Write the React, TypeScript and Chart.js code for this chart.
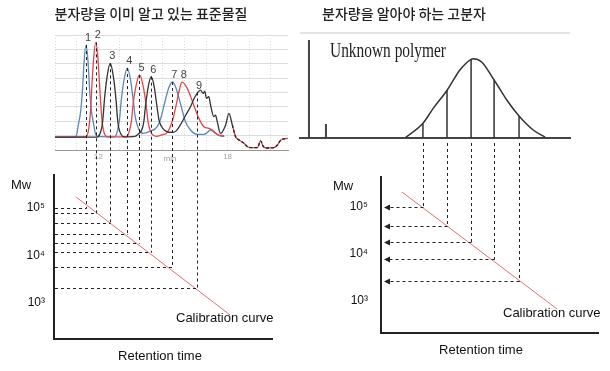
import React, { useEffect, useRef } from "react";
import { Chart, registerables } from "chart.js";
Chart.register(...registerables);

// ---------------- DATA ----------------
// Left: chromatogram of standards (retention time, min / detector response)
const blueTime = [10.0, 10.9, 11.0, 11.08, 11.19, 11.27, 11.355, 11.44, 11.525, 11.61, 11.69, 11.8, 11.88, 12.0, 12.75, 12.85, 12.92, 13.0, 13.06, 13.205, 13.35, 13.495, 13.64, 13.7, 13.78, 13.9, 14.1, 14.4, 14.74, 14.92, 15.09, 15.27, 15.44, 15.6, 15.81, 16.05, 16.28, 16.59, 16.9, 17.05, 17.21, 17.44, 17.67, 17.85];
const blueSignal = [0.9, 0.9, 1.05, 1.73, 2.7, 4.1, 6.28, 7.3, 6.28, 4.1, 2.7, 1.73, 1.1, 0.95, 0.92, 1.1, 1.52, 2.24, 3.3, 4.93, 5.7, 4.93, 3.3, 2.5, 1.9, 1.4, 1.15, 1.3, 1.63, 2.3, 3.32, 4.31, 4.73, 4.35, 3.25, 1.97, 1.39, 1.09, 1.09, 1.2, 1.39, 1.16, 0.97, 0.95];

const redTime = [10.0, 11.4, 11.5, 11.59, 11.66, 11.7, 11.795, 11.89, 11.985, 12.08, 12.13, 12.2, 12.3, 12.45, 13.3, 13.4, 13.47, 13.55, 13.61, 13.765, 13.92, 14.075, 14.23, 14.3, 14.39, 14.5, 14.7, 14.98, 15.15, 15.31, 15.475, 15.64, 15.8, 15.88, 16.13, 16.43, 16.67, 16.9, 17.13, 17.29, 17.52, 17.83];
const redSignal = [0.9, 0.92, 1.05, 1.76, 3.0, 4.2, 6.44, 7.49, 6.44, 4.2, 3.0, 1.76, 1.1, 0.92, 0.92, 1.1, 1.46, 2.1, 3.06, 4.53, 5.22, 4.53, 3.06, 2.1, 1.46, 1.1, 0.95, 1.07, 1.15, 1.5, 2.2, 3.3, 4.4, 4.72, 4.29, 3.13, 2.2, 1.62, 1.51, 1.39, 1.09, 0.99];

const blackTime = [10.0, 11.95, 12.06, 12.17, 12.23, 12.29, 12.425, 12.56, 12.695, 12.83, 12.89, 12.95, 13.06, 13.2, 13.7, 13.85, 14.04, 14.12, 14.19, 14.325, 14.46, 14.595, 14.73, 14.82, 14.95, 15.15, 15.45, 15.63, 15.81, 16.05, 16.28, 16.45, 16.59, 16.74, 16.87, 16.94, 17.02, 17.13, 17.21, 17.36, 17.44, 17.52, 17.67, 17.91, 18.06, 18.22];
const blackSignal = [0.9, 0.9, 1.05, 1.57, 2.3, 3.47, 5.21, 6.03, 5.21, 3.47, 2.3, 1.57, 1.1, 0.92, 0.95, 1.1, 1.46, 2.0, 3.0, 4.43, 5.1, 4.43, 3.0, 2.1, 1.6, 1.3, 1.22, 1.35, 1.74, 2.4, 3.01, 3.6, 3.94, 4.17, 3.94, 4.1, 3.6, 3.71, 3.13, 2.32, 2.43, 1.97, 1.16, 1.74, 2.55, 1.74];

const tailTime = [18.22, 18.37, 18.53, 18.76, 18.92, 19.15, 19.38, 19.53, 19.66, 19.81, 20.15, 20.31, 20.47, 20.78];
const tailSignal = [1.74, 0.93, 0.7, 0.47, 0.23, 0.16, 0.16, 0.63, 0.23, 0.14, 0.16, 0.35, 0.7, 0.81];

const peakNumbers = ["1", "2", "3", "4", "5", "6", "7", "8", "9"];
const peakTimes = [11.44, 11.89, 12.56, 13.35, 13.92, 14.46, 15.44, 15.88, 16.59];
const peakHeights = [7.3, 7.49, 6.03, 5.7, 5.22, 5.1, 4.73, 4.72, 4.0];

// standards used for calibration (peak index) and their molecular weights
const standardPeaks = [0, 1, 2, 3, 4, 5, 6, 8];
const standardMw = [101000, 79000, 47600, 28400, 18100, 12000, 5650, 2040];

const calLeftTime = [10.98, 18.14];
const calLeftMw = [170000, 560];

const chromTicks = [12, 18];
const mwTicks = [1000, 10000, 100000];

// Right: unknown polymer
const polymerTime = [1.116, 1.94, 2.43, 3.08, 3.67, 4.17, 4.29, 4.68, 5.26, 5.85, 6.42, 7.08, 7.63];
const polymerSignal = [0, 0.18, 0.37, 0.6, 0.85, 0.98, 0.99, 0.95, 0.725, 0.475, 0.275, 0.1, 0.01];
const markerTime = [-3.35, -2.56];
const markerHeight = [1.225, 0.175];
const sliceTime = [1.95, 3.07, 4.19, 5.26, 6.42];
const sliceHeight = [0.18, 0.6, 0.98, 0.725, 0.275];
const sliceMw = [98500, 40000, 17700, 7830, 2700];

const calRightTime = [0.977, 8.186];
const calRightMw = [208000, 676];

// ---------------- HELPERS ----------------
const zip = (xs: number[], ys: number[]) => xs.map((x, i) => ({ x, y: ys[i] }));
const sticks = (xs: number[], hs: number[]) => {
  const out: { x: number; y: number | null }[] = [];
  xs.forEach((x, i) => {
    out.push({ x, y: 0 }, { x, y: hs[i] }, { x, y: null });
  });
  return out;
};
const SUP: Record<number, string> = { 3: "\u00B3", 4: "\u2074", 5: "\u2075" };
const SANS = '"Liberation Sans", Arial, sans-serif';
const KR = '"Noto Sans CJK KR", sans-serif';

type TextItem = { text: string; x: number; y: number; font: string; color?: string; align?: CanvasTextAlign; maxWidth?: number; baseline?: CanvasTextBaseline };
const drawTexts = (ctx: CanvasRenderingContext2D, items: TextItem[]) => {
  ctx.save();
  items.forEach((t) => {
    ctx.font = t.font;
    ctx.fillStyle = t.color || "#111";
    ctx.textAlign = t.align || "left";
    ctx.textBaseline = t.baseline || "middle";
    if (t.maxWidth) ctx.fillText(t.text, t.x, t.y, t.maxWidth);
    else ctx.fillText(t.text, t.x, t.y);
  });
  ctx.restore();
};

const baseOptions = {
  responsive: false,
  animation: false as const,
  devicePixelRatio: 1,
  events: [] as any[],
  plugins: { legend: { display: false }, tooltip: { enabled: false }, title: { display: false } },
  elements: { point: { radius: 0 } },
};

export default function App() {
  const c1 = useRef<HTMLCanvasElement>(null);
  const c2 = useRef<HTMLCanvasElement>(null);
  const c3 = useRef<HTMLCanvasElement>(null);
  const c4 = useRef<HTMLCanvasElement>(null);

  useEffect(() => {
    const charts: Chart[] = [];
    const line = (data: any[], color: string, width: number, extra: any = {}) => ({
      data,
      borderColor: color,
      borderWidth: width,
      pointRadius: 0,
      fill: false,
      cubicInterpolationMode: "monotone",
      ...extra,
    });

    // ---- Left chromatogram ----
    const chromL = new Chart(c1.current!, {
      type: "line",
      data: {
        datasets: [
          line(zip(tailTime, tailSignal), "#222", 1.3, { order: 0, borderDash: [3, 2] }),
          line(zip(tailTime, tailSignal), "#e0474c", 1.3, { order: 1 }),
          line(zip(blackTime, blackSignal), "#333", 1.3, { order: 2 }),
          line(zip(redTime, redSignal), "#e0474c", 1.3, { order: 3 }),
          line(zip(blueTime, blueSignal), "#5b87b8", 1.3, { order: 4 }),
        ],
      },
      options: {
        ...baseOptions,
        layout: { padding: { left: 55, right: 322, top: 35, bottom: 209 } },
        scales: {
          x: {
            type: "linear",
            min: 10,
            max: 20.8,
            afterBuildTicks: (s: any) => {
              const t = [];
              for (let v = 10; v <= 20; v++) t.push({ value: v });
              s.ticks = t;
            },
            afterFit: (s: any) => { s.height = 12; },
            grid: { color: "#dcdcdc", drawTicks: false, lineWidth: 1 },
            border: { display: true, color: "#9a9a9a", width: 1, dash: [1, 2] },
            ticks: {
              padding: 2,
              color: "#a0a0a0",
              font: { size: 8, family: SANS },
              maxRotation: 0,
              autoSkip: false,
              callback: (v: any) => (chromTicks.includes(Number(v)) ? String(v) : ""),
            },
          },
          y: {
            type: "linear",
            min: 0,
            max: 8,
            afterBuildTicks: (s: any) => {
              const t = [];
              for (let v = 0; v <= 8; v++) t.push({ value: v });
              s.ticks = t;
            },
            afterFit: (s: any) => { s.width = 0; },
            grid: {
              drawTicks: false,
              color: (c: any) => (c.tick && c.tick.value === 0 ? "rgba(0,0,0,0)" : "#dcdcdc"),
            },
            border: { display: false },
            ticks: { display: false },
          },
        },
      } as any,
      plugins: [
        {
          id: "leftChromText",
          afterDatasetsDraw(chart: any) {
            const { ctx, scales } = chart;
            const items: TextItem[] = [
              { text: "분자량을 이미 알고 있는 표준물질", x: 151, y: 14, font: `500 14px ${KR}`, color: "#222", align: "center" },
              { text: "min", x: 170, y: 159, font: `8px ${SANS}`, color: "#a0a0a0", align: "center" },
            ];
            peakNumbers.forEach((n, i) => {
              items.push({
                text: n,
                x: scales.x.getPixelForValue(peakTimes[i]) + 2,
                y: scales.y.getPixelForValue(peakHeights[i]) - 7,
                font: `11px ${SANS}`,
                color: "#444",
                align: "center",
              });
            });
            drawTexts(ctx, items);
          },
        },
      ],
    });
    charts.push(chromL);

    // ---- Right chromatogram ----
    const chromR = new Chart(c2.current!, {
      type: "line",
      data: {
        datasets: [
          line(zip(polymerTime, polymerSignal), "#333", 1.5),
          line(sticks(sliceTime, sliceHeight), "#333", 1.5, { cubicInterpolationMode: "default", tension: 0 }),
          line(sticks(markerTime, markerHeight), "#444", 2, { cubicInterpolationMode: "default", tension: 0 }),
        ],
      },
      options: {
        ...baseOptions,
        layout: { padding: { left: 300, right: 40, top: 33, bottom: 233 } },
        scales: {
          x: {
            type: "linear",
            min: -3.767,
            max: 8.79,
            afterFit: (s: any) => { s.height = 0; },
            grid: { display: false },
            border: { display: true, color: "#444", width: 2 },
            ticks: { display: false },
          },
          y: {
            type: "linear",
            min: 0,
            max: 1.3125,
            afterBuildTicks: (s: any) => { s.ticks = [{ value: s.max }]; },
            afterFit: (s: any) => { s.width = 0; },
            grid: { drawTicks: false, color: "#e4e4e4", lineWidth: 2 },
            border: { display: false },
            ticks: { display: false },
          },
        },
      } as any,
      plugins: [
        {
          id: "rightChromText",
          afterDatasetsDraw(chart: any) {
            drawTexts(chart.ctx, [
              { text: "분자량을 알아야 하는 고분자", x: 404, y: 14, font: `500 14px ${KR}`, color: "#222", align: "center" },
              { text: "Unknown polymer", x: 330, y: 57, font: `20px "Liberation Serif", "Times New Roman", serif`, color: "#222", baseline: "alphabetic", maxWidth: 116 },
            ]);
          },
        },
      ],
    });
    charts.push(chromR);

    const calScales = (xmin: number, xmax: number, ymin: number, ymax: number, tickPad: number) => ({
      x: {
        type: "linear",
        min: xmin,
        max: xmax,
        afterFit: (s: any) => { s.height = 10; },
        grid: { display: false },
        border: { display: true, color: "#222", width: 2 },
        ticks: { display: false },
      },
      y: {
        type: "logarithmic",
        min: ymin,
        max: ymax,
        afterBuildTicks: (s: any) => { s.ticks = mwTicks.map((v) => ({ value: v })); },
        afterFit: (s: any) => { s.width = 40; },
        grid: { display: false, drawTicks: false },
        border: { display: true, color: "#222", width: 2 },
        ticks: {
          padding: tickPad,
          color: "#111",
          font: { size: 12, family: SANS },
          callback: (v: any) => "10" + (SUP[Math.round(Math.log10(Number(v)))] || ""),
        },
      },
    });

    // ---- Left calibration ----
    const calL = new Chart(c3.current!, {
      type: "line",
      data: {
        datasets: [line(zip(calLeftTime, calLeftMw), "#e07070", 1, { cubicInterpolationMode: "default", tension: 0 })],
      },
      options: {
        ...baseOptions,
        layout: { padding: { left: 14, right: 338, top: 175, bottom: 22 } },
        scales: calScales(9.953, 20.093, 174.6, 495000, 9),
      } as any,
      plugins: [
        {
          id: "leftConnectors",
          afterDatasetsDraw(chart: any) {
            const { ctx, scales, chartArea } = chart;
            ctx.save();
            ctx.strokeStyle = "#222";
            ctx.lineWidth = 1;
            ctx.setLineDash([3, 3]);
            standardPeaks.forEach((pi, i) => {
              const px = Math.round(scales.x.getPixelForValue(peakTimes[pi])) + 0.5;
              const py = Math.round(scales.y.getPixelForValue(standardMw[i])) + 0.5;
              const top = chromL.scales.y.getPixelForValue(peakHeights[pi]);
              ctx.beginPath();
              ctx.moveTo(px, top);
              ctx.lineTo(px, py);
              ctx.stroke();
              ctx.beginPath();
              ctx.moveTo(chartArea.left + 1, py);
              ctx.lineTo(px, py);
              ctx.stroke();
            });
            ctx.restore();
            drawTexts(ctx, [
              { text: "Mw", x: 11, y: 185, font: `13px ${SANS}` },
              { text: "Calibration curve", x: 176, y: 318, font: `13px ${SANS}` },
              { text: "Retention time", x: 160, y: 356, font: `13px ${SANS}`, align: "center" },
            ]);
          },
        },
      ],
    });
    charts.push(calL);

    // ---- Right calibration ----
    const calR = new Chart(c4.current!, {
      type: "line",
      data: {
        datasets: [line(zip(calRightTime, calRightMw), "#e07070", 1, { cubicInterpolationMode: "default", tension: 0 })],
      },
      options: {
        ...baseOptions,
        layout: { padding: { left: 341, right: 12, top: 177, bottom: 28 } },
        scales: calScales(0, 10.093, 208, 435000, 13),
      } as any,
      plugins: [
        {
          id: "rightConnectors",
          afterDatasetsDraw(chart: any) {
            const { ctx, scales, chartArea } = chart;
            const top = chromR.scales.y.getPixelForValue(0) + 5;
            ctx.save();
            ctx.strokeStyle = "#222";
            ctx.fillStyle = "#222";
            ctx.lineWidth = 1;
            sliceTime.forEach((t, i) => {
              const px = Math.round(scales.x.getPixelForValue(t)) + 0.5;
              const py = Math.round(scales.y.getPixelForValue(sliceMw[i])) + 0.5;
              const tip = chartArea.left + 3;
              ctx.setLineDash([3, 3]);
              ctx.beginPath();
              ctx.moveTo(px, top);
              ctx.lineTo(px, py);
              ctx.stroke();
              ctx.beginPath();
              ctx.moveTo(px, py);
              ctx.lineTo(tip + 5, py);
              ctx.stroke();
              ctx.setLineDash([]);
              ctx.beginPath();
              ctx.moveTo(tip, py);
              ctx.lineTo(tip + 6, py - 3);
              ctx.lineTo(tip + 6, py + 3);
              ctx.closePath();
              ctx.fill();
            });
            ctx.restore();
            drawTexts(ctx, [
              { text: "Mw", x: 333, y: 186, font: `13px ${SANS}` },
              { text: "Calibration curve", x: 503, y: 313, font: `13px ${SANS}` },
              { text: "Retention time", x: 481, y: 350, font: `13px ${SANS}`, align: "center" },
            ]);
          },
        },
      ],
    });
    charts.push(calR);

    return () => charts.forEach((c) => c.destroy());
  }, []);

  const cs: React.CSSProperties = { position: "absolute", left: 0, top: 0, width: 610, height: 371 };
  return (
    <div style={{ position: "fixed", left: 0, top: 0, width: 610, height: 371, background: "#fff" }}>
      <canvas ref={c1} width={610} height={371} style={cs} />
      <canvas ref={c2} width={610} height={371} style={cs} />
      <canvas ref={c3} width={610} height={371} style={cs} />
      <canvas ref={c4} width={610} height={371} style={cs} />
    </div>
  );
}
